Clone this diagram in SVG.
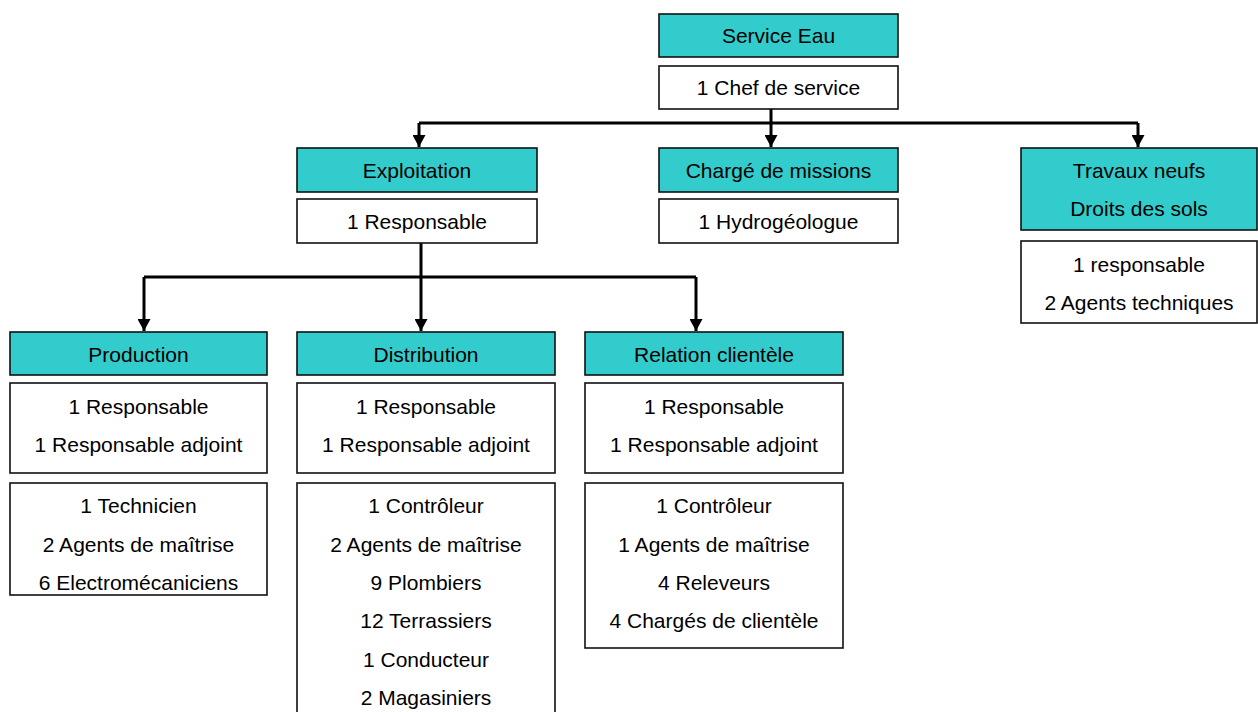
<svg xmlns="http://www.w3.org/2000/svg" width="1258" height="712" viewBox="0 0 1258 712">
<defs>
<style>
.h{fill:#33CCCC;stroke:#111;stroke-width:1.6}
.b{fill:#fff;stroke:#111;stroke-width:1.6}
text{font-family:"Liberation Sans",Arial,sans-serif;font-size:21px;fill:#000;text-anchor:middle}
.c{fill:none;stroke:#000;stroke-width:3}
</style>
<marker id="ar" markerUnits="userSpaceOnUse" markerWidth="13" markerHeight="13" refX="12" refY="6.5" orient="auto">
<path d="M0,0 L12,6.5 L0,13 z" fill="#000"/>
</marker>
</defs>
<rect width="1258" height="712" fill="#fff"/>
<g id="connectors">
<path class="c" d="M419,123 H1138"/>
<path class="c" d="M771,109 V147" marker-end="url(#ar)"/>
<path class="c" d="M419,123 V147" marker-end="url(#ar)"/>
<path class="c" d="M1138,123 V147" marker-end="url(#ar)"/>
<path class="c" d="M144,277 H696"/>
<path class="c" d="M421,243 V331" marker-end="url(#ar)"/>
<path class="c" d="M144,277 V331" marker-end="url(#ar)"/>
<path class="c" d="M696,277 V331" marker-end="url(#ar)"/>
</g>
<g id="service-eau">
<rect class="h" x="659" y="14" width="239" height="43"/>
<text x="778.5" y="43">Service Eau</text>
<rect class="b" x="659" y="66" width="239" height="43"/>
<text x="778.5" y="95">1 Chef de service</text>
</g>
<g id="exploitation">
<rect class="h" x="297" y="148" width="240" height="44"/>
<text x="417" y="178">Exploitation</text>
<rect class="b" x="297" y="199" width="240" height="44"/>
<text x="417" y="229">1 Responsable</text>
</g>
<g id="charge-missions">
<rect class="h" x="659" y="148" width="239" height="44"/>
<text x="778.5" y="178">Chargé de missions</text>
<rect class="b" x="659" y="199" width="239" height="44"/>
<text x="778.5" y="229">1 Hydrogéologue</text>
</g>
<g id="travaux-neufs">
<rect class="h" x="1021" y="148" width="236" height="82"/>
<text x="1139" y="178">Travaux neufs</text>
<text x="1139" y="216">Droits des sols</text>
<rect class="b" x="1021" y="241" width="236" height="82"/>
<text x="1139" y="272">1 responsable</text>
<text x="1139" y="310">2 Agents techniques</text>
</g>
<g id="production">
<rect class="h" x="10" y="332" width="257" height="43"/>
<text x="138.5" y="362">Production</text>
<rect class="b" x="10" y="383" width="257" height="90"/>
<text x="138.5" y="414">1 Responsable</text>
<text x="138.5" y="452">1 Responsable adjoint</text>
<rect class="b" x="10" y="483" width="257" height="112"/>
<text x="138.5" y="513">1 Technicien</text>
<text x="138.5" y="552">2 Agents de maîtrise</text>
<text x="138.5" y="590">6 Electromécaniciens</text>
</g>
<g id="distribution">
<rect class="h" x="297" y="332" width="258" height="43"/>
<text x="426" y="362">Distribution</text>
<rect class="b" x="297" y="383" width="258" height="90"/>
<text x="426" y="414">1 Responsable</text>
<text x="426" y="452">1 Responsable adjoint</text>
<rect class="b" x="297" y="483" width="258" height="240"/>
<text x="426" y="513">1 Contrôleur</text>
<text x="426" y="552">2 Agents de maîtrise</text>
<text x="426" y="590">9 Plombiers</text>
<text x="426" y="628">12 Terrassiers</text>
<text x="426" y="667">1 Conducteur</text>
<text x="426" y="705">2 Magasiniers</text>
</g>
<g id="relation-clientele">
<rect class="h" x="585" y="332" width="258" height="43"/>
<text x="714" y="362">Relation clientèle</text>
<rect class="b" x="585" y="383" width="258" height="90"/>
<text x="714" y="414">1 Responsable</text>
<text x="714" y="452">1 Responsable adjoint</text>
<rect class="b" x="585" y="483" width="258" height="165"/>
<text x="714" y="513">1 Contrôleur</text>
<text x="714" y="552">1 Agents de maîtrise</text>
<text x="714" y="590">4 Releveurs</text>
<text x="714" y="628">4 Chargés de clientèle</text>
</g>
</svg>
